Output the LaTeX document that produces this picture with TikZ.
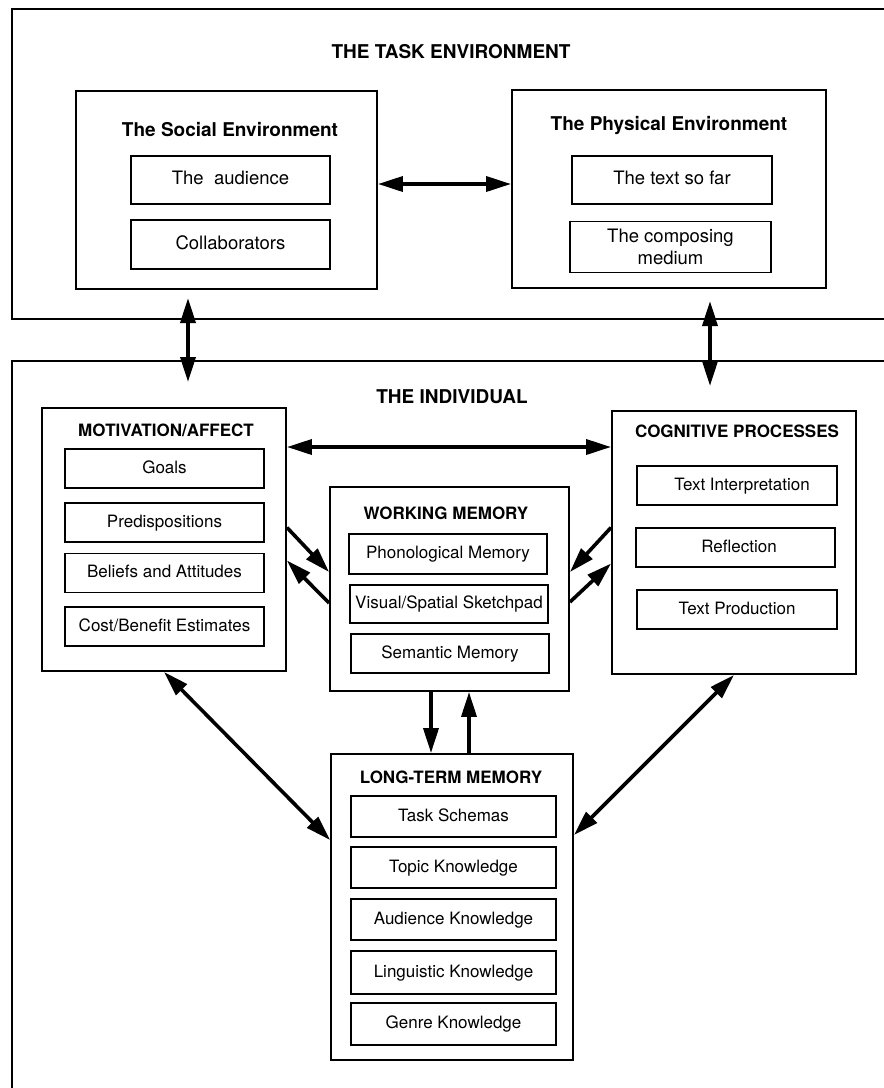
\documentclass[tikz,border=0pt]{standalone}
\usepackage{fontspec}
\setsansfont{TeX Gyre Heros}
\usepackage{tikz}
\usetikzlibrary{arrows.meta, calc, backgrounds}
\pgfdeclarelayer{background}
\pgfsetlayers{background,main}

\begin{document}
\begin{tikzpicture}[x=1pt, y=-1pt]

    \useasboundingbox (0,0) rectangle (884,1088);

    % Sans-serif text
    \sffamily

    % Boxes
    \tikzset{outerB/.style={draw, line width=1.9pt, inner sep=0pt}}
    \tikzset{groupB/.style={draw, line width=1.9pt, inner sep=0pt}}
    \tikzset{itemB/.style={draw, line width=1.7pt, inner sep=0pt, minimum width=199pt, minimum height=39pt, text height=12.5pt, text depth=3.5pt, font=\fontsize{17}{20}\selectfont}}
    \tikzset{topItemB/.style={itemB, minimum height=48pt, text height=13.5pt, text depth=4pt, font=\fontsize{18.5}{21}\selectfont}}
    \tikzset{ltmItemB/.style={itemB, minimum width=205pt, minimum height=41pt}}

    % Titles
    \tikzset{bigT/.style={font=\bfseries\fontsize{19}{22}\selectfont}}
    \tikzset{smallT/.style={font=\bfseries\fontsize{17}{20}\selectfont}}

    % Arrows
    \tikzset{link/.style={line width=3.6pt, -{Triangle[length=25pt, width=15pt]}}}
    \tikzset{dlink/.style={line width=3.6pt, {Triangle[length=25pt, width=15pt]}-{Triangle[length=25pt, width=15pt]}}}

    % Task environment
    \node (task) [outerB, minimum width=888pt, minimum height=310pt] at (456, 164) {};
    \node (taskT) [bigT] at (451, 52) {THE TASK ENVIRONMENT};
    	\node (soc) [groupB, minimum width=301pt, minimum height=198pt] at (226.5, 190) {};
    	\node (socT) [bigT] at (230, 130) {The Social Environment};
    		\node (aud) [topItemB] at (230.5, 180) {The~~audience};
    		\node (coll) [topItemB, minimum height=49pt] at (230.5, 244.5) {Collaborators};
    	\node (phys) [groupB, minimum width=314pt, minimum height=198pt] at (669, 189) {};
    	\node (physT) [bigT] at (669, 125) {The Physical Environment};
    		\node (sofar) [topItemB, minimum width=200pt] at (672, 180) {The text so far};
    		\node (medium) [draw, line width=1.7pt, inner sep=0pt, minimum width=201pt, minimum height=51pt, align=center, font=\fontsize{18.5}{22}\selectfont] at (670.5, 247) {The composing\\medium};

    % The individual
    \node (ind) [outerB, minimum width=888pt, minimum height=739pt] at (456, 730.5) {};
    \node (indT) [bigT] at (452, 397) {THE INDIVIDUAL};
    	\node (motiv) [groupB, minimum width=244pt, minimum height=263pt] at (164, 539.5) {};
    	\node (motivT) [smallT] at (166, 430) {MOTIVATION/AFFECT};
    		\node (goals) [itemB] at (164.5, 468.5) {Goals};
    		\node (predis) [itemB] at (164.5, 522.5) {Predispositions};
    		\node (belief) [itemB] at (164.5, 573) {Beliefs and Attitudes};
    		\node (cost) [itemB] at (164.5, 626.5) {Cost/Benefit Estimates};
    	\node (wm) [groupB, minimum width=239pt, minimum height=204pt] at (449.5, 589) {};
    	\node (wmT) [smallT] at (446, 513) {WORKING MEMORY};
    		\node (phon) [itemB, minimum width=198pt, minimum height=40pt] at (448, 554) {Phonological Memory};
    		\node (vis) [itemB, minimum width=198pt, minimum height=38pt] at (449, 604) {Visual/Spatial Sketchpad};
    		\node (sem) [itemB, minimum width=198pt] at (450, 653.5) {Semantic Memory};
    	\node (cog) [groupB, minimum width=244pt, minimum height=263pt] at (734, 542.5) {};
    	\node (cogT) [smallT] at (737, 431) {COGNITIVE PROCESSES};
    		\node (interp) [itemB, minimum width=200pt] at (737, 485.5) {\hspace{10pt}Text Interpretation};
    		\node (refl) [itemB] at (735.5, 547.5) {\hspace{7pt}Reflection};
    		\node (prod) [itemB, minimum width=200pt] at (737, 609.5) {Text Production};
    	\node (ltm) [groupB, minimum width=242pt, minimum height=306pt] at (452, 907) {};
    	\node (ltmT) [smallT] at (451, 777) {LONG-TERM MEMORY};
    		\node (schema) [ltmItemB] at (453.5, 816.5) {Task Schemas};
    		\node (topic) [ltmItemB] at (453.5, 867.5) {Topic Knowledge};
    		\node (audk) [ltmItemB] at (453.5, 919.5) {Audience Knowledge};
    		\node (ling) [ltmItemB, minimum height=43pt] at (453.5, 972.5) {Linguistic Knowledge};
    		\node (genre) [ltmItemB, minimum height=42pt] at (453.5, 1024) {Genre Knowledge};

    % Ends of the links between the two environments
    \coordinate (lTop) at (188, 298);
    \coordinate (lBot) at (188, 382);
    \coordinate (rTop) at (710, 301);
    \coordinate (rBot) at (710, 386);

    % Links
    \begin{pgfonlayer}{background}

    	% Task environment
    	\draw[dlink] ($(soc.east)+(0,-6)$) -- ($(phys.west)+(0,-5)$);
    	\draw[dlink] (lTop) -- (lBot);
    	\draw[dlink] (rTop) -- (rBot);

    	% The individual
    	\draw[dlink] ($(motiv.east)+(0,-92.5)$) -- ($(cog.west)+(0,-95.5)$);
    		\draw[link] ($(motiv.east)+(0,-12)$) -- ($(wm.west)+(0,-17)$);
    		\draw[link] ($(wm.west)+(0,14)$) -- ($(motiv.east)+(0,21)$);
    		\draw[link] ($(cog.west)+(0,-15)$) -- ($(wm.east)+(0,-17)$);
    		\draw[link] ($(wm.east)+(0,13)$) -- ($(cog.west)+(0,21)$);
    		\draw[link] ($(wm.south)+(-18.5,0)$) -- ($(ltm.north)+(-21,0)$);
    		\draw[link] ($(ltm.north)+(17,0)$) -- ($(wm.south)+(19.5,0)$);
    	\draw[dlink] (motiv.south) -- ($(ltm.west)+(0,-67)$);
    	\draw[dlink] (cog.south) -- ($(ltm.east)+(0,-72)$);

    \end{pgfonlayer}

\end{tikzpicture}
\end{document}
